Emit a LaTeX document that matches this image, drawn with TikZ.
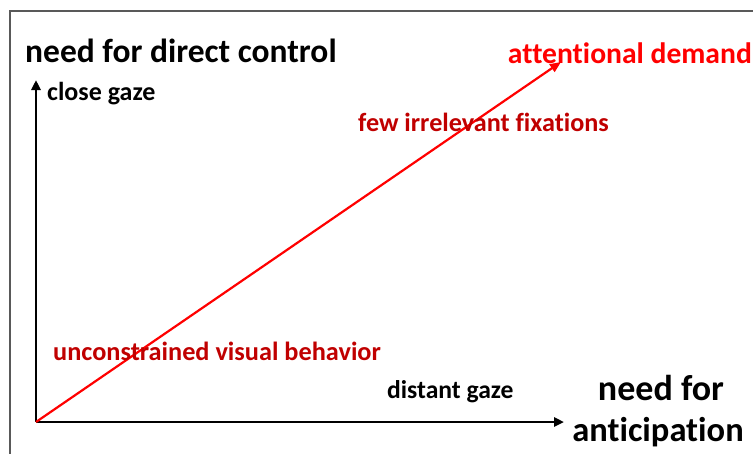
\documentclass[tikz,border=0pt]{standalone}
\usepackage{fontspec}
\setmainfont{Carlito}[Ligatures={NoCommon}]
\usetikzlibrary{arrows.meta}
\definecolor{darkred}{HTML}{C00000}
\newcommand{\fs}[1]{\bfseries\fontsize{#1}{#1}\selectfont}
\begin{document}
\begin{tikzpicture}[x=1pt,y=-1pt,
  axis/.style={line width=2.6pt,-{Triangle[length=10pt,width=9pt]}},
  demand/.style={red,line width=2.2pt,-{Triangle[length=11pt,width=9pt]}},
  lbl/.style={inner sep=0pt,anchor=base west}]
\useasboundingbox (0,0) rectangle (753,453);
\begin{scope}
\clip (0,0) rectangle (753,453);
\draw[gray!70!black,line width=1.5pt] (10,11) rectangle (780,480);
\end{scope}
\coordinate (o) at (36,422);
\coordinate (ytip) at (36,80);
\coordinate (xtip) at (564,422);
\coordinate (dtip) at (561,62);
\draw[axis] (o) -- (ytip);
\draw[axis] (o) -- (xtip);
\draw[demand] (o) -- (dtip);
\node[lbl,font=\fs{33.5}] (ylab) at (25,62) {need for direct control};
\node[lbl,font=\fs{26}] (close) at (47,100) {close gaze};
\node[lbl,font=\fs{29.6},text=red,anchor=base east] (att) at (752,63) {attentional demand};
\node[lbl,font=\fs{26.2},text=darkred] (few) at (358,131) {few irrelevant fixations};
\node[lbl,font=\fs{26.3},text=darkred] (unc) at (53,360) {unconstrained visual behavior};
\node[lbl,font=\fs{25.6}] (dist) at (387,398) {distant gaze};
\node[lbl,font=\fs{36},anchor=base] (xlab1) at (661,400) {need for};
\node[lbl,font=\fs{34.5},anchor=base] (xlab2) at (658,441) {anticipation};
\end{tikzpicture}
\end{document}
